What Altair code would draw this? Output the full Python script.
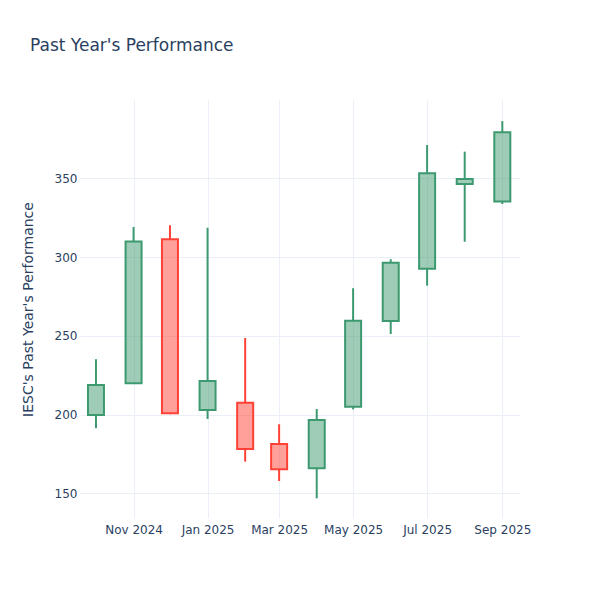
import altair as alt
import pandas as pd

dates = ["2024-10-01", "2024-11-01", "2024-12-01", "2025-01-01", "2025-02-01", "2025-03-01",
         "2025-04-01", "2025-05-01", "2025-06-01", "2025-07-01", "2025-08-01", "2025-09-01"]
open_ = [199.7, 219.8, 311.3, 202.9, 207.5, 181.3, 165.9, 205.0, 259.4, 292.6, 346.4, 335.2]
high = [235.1, 319.1, 320.2, 318.6, 248.6, 193.8, 203.5, 280.2, 298.6, 371.1, 366.9, 386.3]
low = [191.3, 219.8, 200.2, 197.2, 170.1, 157.8, 146.8, 203.3, 251.1, 281.8, 309.7, 333.7]
close = [218.8, 309.8, 200.8, 221.3, 178.1, 165.2, 196.5, 259.6, 296.4, 353.2, 349.6, 379.2]
tick_dates = ["2024-11-01", "2025-01-01", "2025-03-01", "2025-05-01", "2025-07-01", "2025-09-01"]
y_ticks = [150, 200, 250, 300, 350]

df = pd.DataFrame({"date": dates, "open": open_, "high": high, "low": low, "close": close})
df["top"] = df[["open", "close"]].max(axis=1)
df["bottom"] = df[["open", "close"]].min(axis=1)
df["dir"] = ["inc" if c >= o else "dec" for o, c in zip(df["open"], df["close"])]

FONT = "DejaVu Sans"
TXT = "#2a3f5f"
GRID = "#EBF0F8"

def dt(s, hours=0):
    y, m, d = [int(v) for v in s.split("-")]
    return alt.DateTime(year=y, month=m, date=d, hours=hours, utc=True)

xscale = alt.Scale(type="utc", domain=[dt("2024-09-17", 20), dt("2025-09-15", 14)], padding=0)
yscale = alt.Scale(domain=[134.3, 399.7], nice=False, zero=False, padding=0)

x_enc = alt.X("date:T", scale=xscale,
              axis=alt.Axis(values=[dt(t) for t in tick_dates], format="%b %Y", title=None,
                            grid=True, gridColor=GRID, gridWidth=1, domain=False, ticks=False,
                            labelFont=FONT, labelFontSize=12, labelColor=TXT, labelPadding=6,
                            labelFlush=False))
color = alt.Color("dir:N", scale=alt.Scale(domain=["inc", "dec"], range=["#3D9970", "#FF4136"]),
                  legend=None)

base = alt.Chart(df)

wick_up = base.mark_rule(strokeWidth=2).encode(
    x=x_enc,
    y=alt.Y("top:Q", scale=yscale,
            axis=alt.Axis(values=y_ticks, title="IESC's Past Year's Performance",
                          grid=True, gridColor=GRID, gridWidth=1, domain=False, ticks=False,
                          labelFont=FONT, labelFontSize=12, labelColor=TXT, labelPadding=3,
                          titleFont=FONT, titleFontSize=14, titleColor=TXT, titleFontWeight="normal",
                          titleAngle=-90, titleBaseline="middle", titleAlign="center",
                          titleX=-52, titleY=209)),
    y2="high:Q",
    color=color,
)
wick_down = base.mark_rule(strokeWidth=2).encode(
    x="date:T", y="low:Q", y2="bottom:Q", color=color,
)
body = base.mark_bar(size=16, strokeWidth=2, fillOpacity=0.5).encode(
    x="date:T", y="bottom:Q", y2="top:Q",
    fill=color, stroke=color,
)

chart = alt.layer(wick_up, wick_down, body).properties(
    width=440, height=418,
    autosize=alt.AutoSizeParams(type="none"),
    padding={"left": 72, "top": 92, "right": 40, "bottom": 60},
    title=alt.Title("Past Year's Performance", anchor="start", frame="group", dx=-50,
                    offset=32, baseline="alphabetic", font=FONT, fontSize=17,
                    fontWeight="normal", color=TXT),
).configure_view(stroke=None)

chart.save("out.html", embed_options={"renderer": "svg", "actions": False})
